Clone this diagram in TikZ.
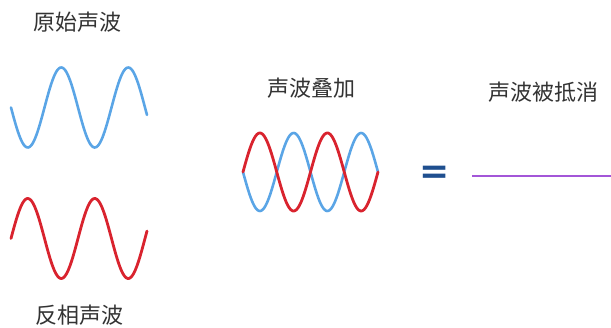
\documentclass[tikz,border=0pt]{standalone}
\usepackage{fontspec}
\usepackage{xcolor}
\usepackage{tikz}
\newfontfamily\cjk{Noto Sans CJK SC}
\newfontfamily\eqfont{DejaVu Sans Bold}
\definecolor{wblue}{HTML}{5AA5E6}
\definecolor{wred}{HTML}{D9232E}
\definecolor{wpurple}{HTML}{A356D8}
\definecolor{eqblue}{HTML}{1F4F8F}
\definecolor{txt}{HTML}{333333}

\begin{document}
\begin{tikzpicture}[
    x=1pt, y=-1pt,
    title/.style={font=\cjk\fontsize{22}{22}\selectfont, text=txt, inner sep=0pt},
    bluewave/.style={draw=wblue, line width=2.6pt, line cap=round},
    redwave/.style={draw=wred, line width=2.8pt, line cap=round},
]
\useasboundingbox (0,0) rectangle (611,328);

% Titles
\node[title] (orig) at (78,22.5) {原始声波};
\node[title] (anti) at (79,315.5) {反相声波};
\node[title] (sum) at (311,88) {声波叠加};
\node[title] (gone) at (543.5,92.5) {声波被抵消};

% Original and inverted waves
\draw[bluewave] plot[domain=11:147, samples=120, smooth] (\x, {107.5+40*sin((\x-11)/67*360)});
\draw[redwave] plot[domain=11:147, samples=120, smooth] (\x, {238.5-40*sin((\x-11)/67*360)});

% Superposition
\draw[bluewave] plot[domain=243:378, samples=120, smooth] (\x, {172+39*sin((\x-243)/67.5*360)});
\draw[redwave] plot[domain=243:378, samples=120, smooth] (\x, {172-39*sin((\x-243)/67.5*360)});

% Result
\node[font=\eqfont\fontsize{36}{36}\selectfont, text=eqblue, inner sep=0pt] (eq) at (434.5,174.5) {=};
\coordinate (flat0) at (472,176);
\coordinate (flat1) at (611,176);
\draw[wpurple, line width=2.4pt] (flat0) -- (flat1);
\end{tikzpicture}
\end{document}
